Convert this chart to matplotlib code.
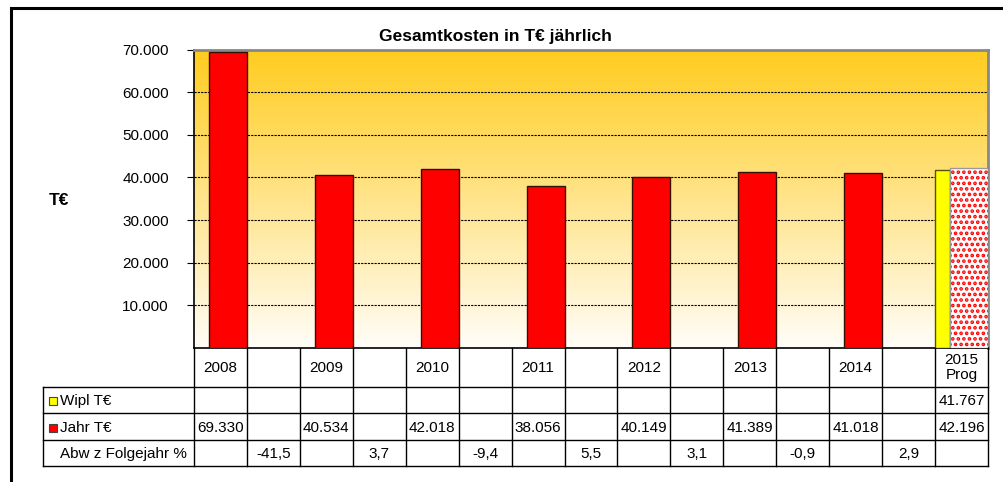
import numpy as np
import matplotlib
matplotlib.use('Agg')
import matplotlib.pyplot as plt
from matplotlib.patches import Rectangle
from matplotlib.lines import Line2D

plt.rcParams['font.family'] = ['Liberation Sans', 'DejaVu Sans']
plt.rcParams['hatch.linewidth'] = 1.8

# Daten
kategorien = ['2008', '', '2009', '', '2010', '', '2011', '', '2012', '', '2013', '', '2014', '', '2015\nProg']
wipl = [None] * 14 + [41767]
jahr = [69330, None, 40534, None, 42018, None, 38056, None, 40149, None, 41389, None, 41018, None, 42196]
abw = [None, -41.5, None, 3.7, None, -9.4, None, 5.5, None, 3.1, None, -0.9, None, 2.9, None]
prognose = [False] * 14 + [True]
zeilen = ['Wipl T€', 'Jahr T€', 'Abw z Folgejahr %']

FS = 11


def fmt_tsd(v):
    return f'{v:,.0f}'.replace(',', '.')


def fmt_pct(v):
    return f'{v:.1f}'.replace('.', ',')


W, H = 1004, 482
fig = plt.figure(figsize=(W / 100, H / 100), dpi=100)

# Rahmen aussen
fig.add_artist(Rectangle((11 / W, -0.1), 1.2, 1 - 8 / H + 0.1, transform=fig.transFigure,
                         fill=False, edgecolor='black', linewidth=2.2))

x0, x1, y_top, y_bot = 194, 988, 49.5, 348
ax = fig.add_axes([x0 / W, 1 - y_bot / H, (x1 - x0) / W, (y_bot - y_top) / H])
n = len(kategorien)

# Hintergrund-Verlauf (oben orange, unten fast weiss)
grad = np.linspace(0, 1, 256).reshape(-1, 1, 1)
top = np.array([255, 204, 30]) / 255
bot = np.array([255, 253, 248]) / 255
img = top * (1 - grad) + bot * grad
ax.imshow(img, extent=(0, n, 0, 70000), aspect='auto', zorder=0, origin='upper')
ax.set_xlim(0, n)
ax.set_ylim(0, 70000)

ax.set_yticks(range(10000, 70001, 10000))
ax.set_yticklabels([fmt_tsd(v) for v in range(10000, 70001, 10000)], fontsize=FS)
ax.yaxis.grid(True, color='black', linestyle=(0, (2, 1)), linewidth=0.8)
ax.set_axisbelow(True)
ax.tick_params(axis='y', length=5, pad=13, direction='out')
ax.set_xticks([])

for s in ['left', 'bottom']:
    ax.spines[s].set_linewidth(1.2)
for s in ['top', 'right']:
    ax.spines[s].set_color('#888888')
    ax.spines[s].set_linewidth(2)

bw_wipl = 15 / 53
bw_jahr = 1 - bw_wipl
for i in range(n):
    if wipl[i] is not None:
        ax.bar(i, wipl[i], width=bw_wipl, align='edge', color='#FFFF00',
               edgecolor='#555500', linewidth=1, zorder=3)
    if jahr[i] is not None:
        if prognose[i]:
            ax.bar(i + bw_wipl, jahr[i], width=bw_jahr, align='edge', color='white',
                   edgecolor='#FF0000', hatch='...', linewidth=0, zorder=3)
            ax.bar(i + bw_wipl, jahr[i], width=bw_jahr, align='edge', fill=False,
                   edgecolor='#999999', linewidth=1, zorder=4)
        else:
            ax.bar(i + bw_wipl, jahr[i], width=bw_jahr, align='edge', color='#FF0000',
                   edgecolor='#331100', linewidth=1, zorder=3)

fig.text(495 / W, 1 - 36 / H, 'Gesamtkosten in T€ jährlich', fontsize=12.5,
         fontweight='bold', ha='center', va='center')
fig.text(59 / W, 1 - 200 / H, 'T€', fontsize=12.5, fontweight='bold',
         ha='center', va='center')

# Tabelle unter dem Diagramm
tab = fig.add_axes([x0 / W, 1 - 466 / H, (x1 - x0) / W, (466 - y_bot) / H])
tab.set_xlim(0, n)
tab.set_ylim(466, y_bot)
tab.axis('off')
unit = (x1 - x0) / n
lab_left = -(x0 - 43) / unit
rows_y = [348, 387, 413, 440, 466]


def hline(xa, xb, y, **kw):
    tab.add_line(Line2D([xa, xb], [y, y], color='black', linewidth=1, clip_on=False, **kw))


def vline(x, ya, yb, **kw):
    tab.add_line(Line2D([x, x], [ya, yb], color='black', linewidth=1, clip_on=False, **kw))


for y in rows_y[1:]:
    hline(lab_left, n, y)
for i in range(n + 1):
    vline(i, rows_y[0], rows_y[-1])
vline(lab_left, rows_y[1], rows_y[-1])

for i, k in enumerate(kategorien):
    tab.text(i + 0.5, (rows_y[0] + rows_y[1]) / 2, k, ha='center', va='center',
             fontsize=FS, linespacing=1.0)
    if wipl[i] is not None:
        tab.text(i + 0.5, (rows_y[1] + rows_y[2]) / 2 + 1, fmt_tsd(wipl[i]),
                 ha='center', va='center', fontsize=FS)
    if jahr[i] is not None:
        tab.text(i + 0.5, (rows_y[2] + rows_y[3]) / 2 + 1, fmt_tsd(jahr[i]),
                 ha='center', va='center', fontsize=FS)
    if abw[i] is not None:
        tab.text(i + 0.5, (rows_y[3] + rows_y[4]) / 2 + 1, fmt_pct(abw[i]),
                 ha='center', va='center', fontsize=FS)

txt_x = lab_left + (60 - 43) / unit
sq = 8 / unit
for r, (name, col) in enumerate(zip(zeilen, ['#FFFF00', '#FF0000', None])):
    yc = (rows_y[r + 1] + rows_y[r + 2]) / 2 + 1
    if col is not None:
        tab.add_patch(Rectangle((lab_left + (49 - 43) / unit, yc - 4), sq, 8,
                                facecolor=col, edgecolor='#444444', linewidth=0.8,
                                clip_on=False))
    tab.text(txt_x, yc, name, ha='left', va='center', fontsize=FS)

fig.savefig('out.png', dpi=100)
